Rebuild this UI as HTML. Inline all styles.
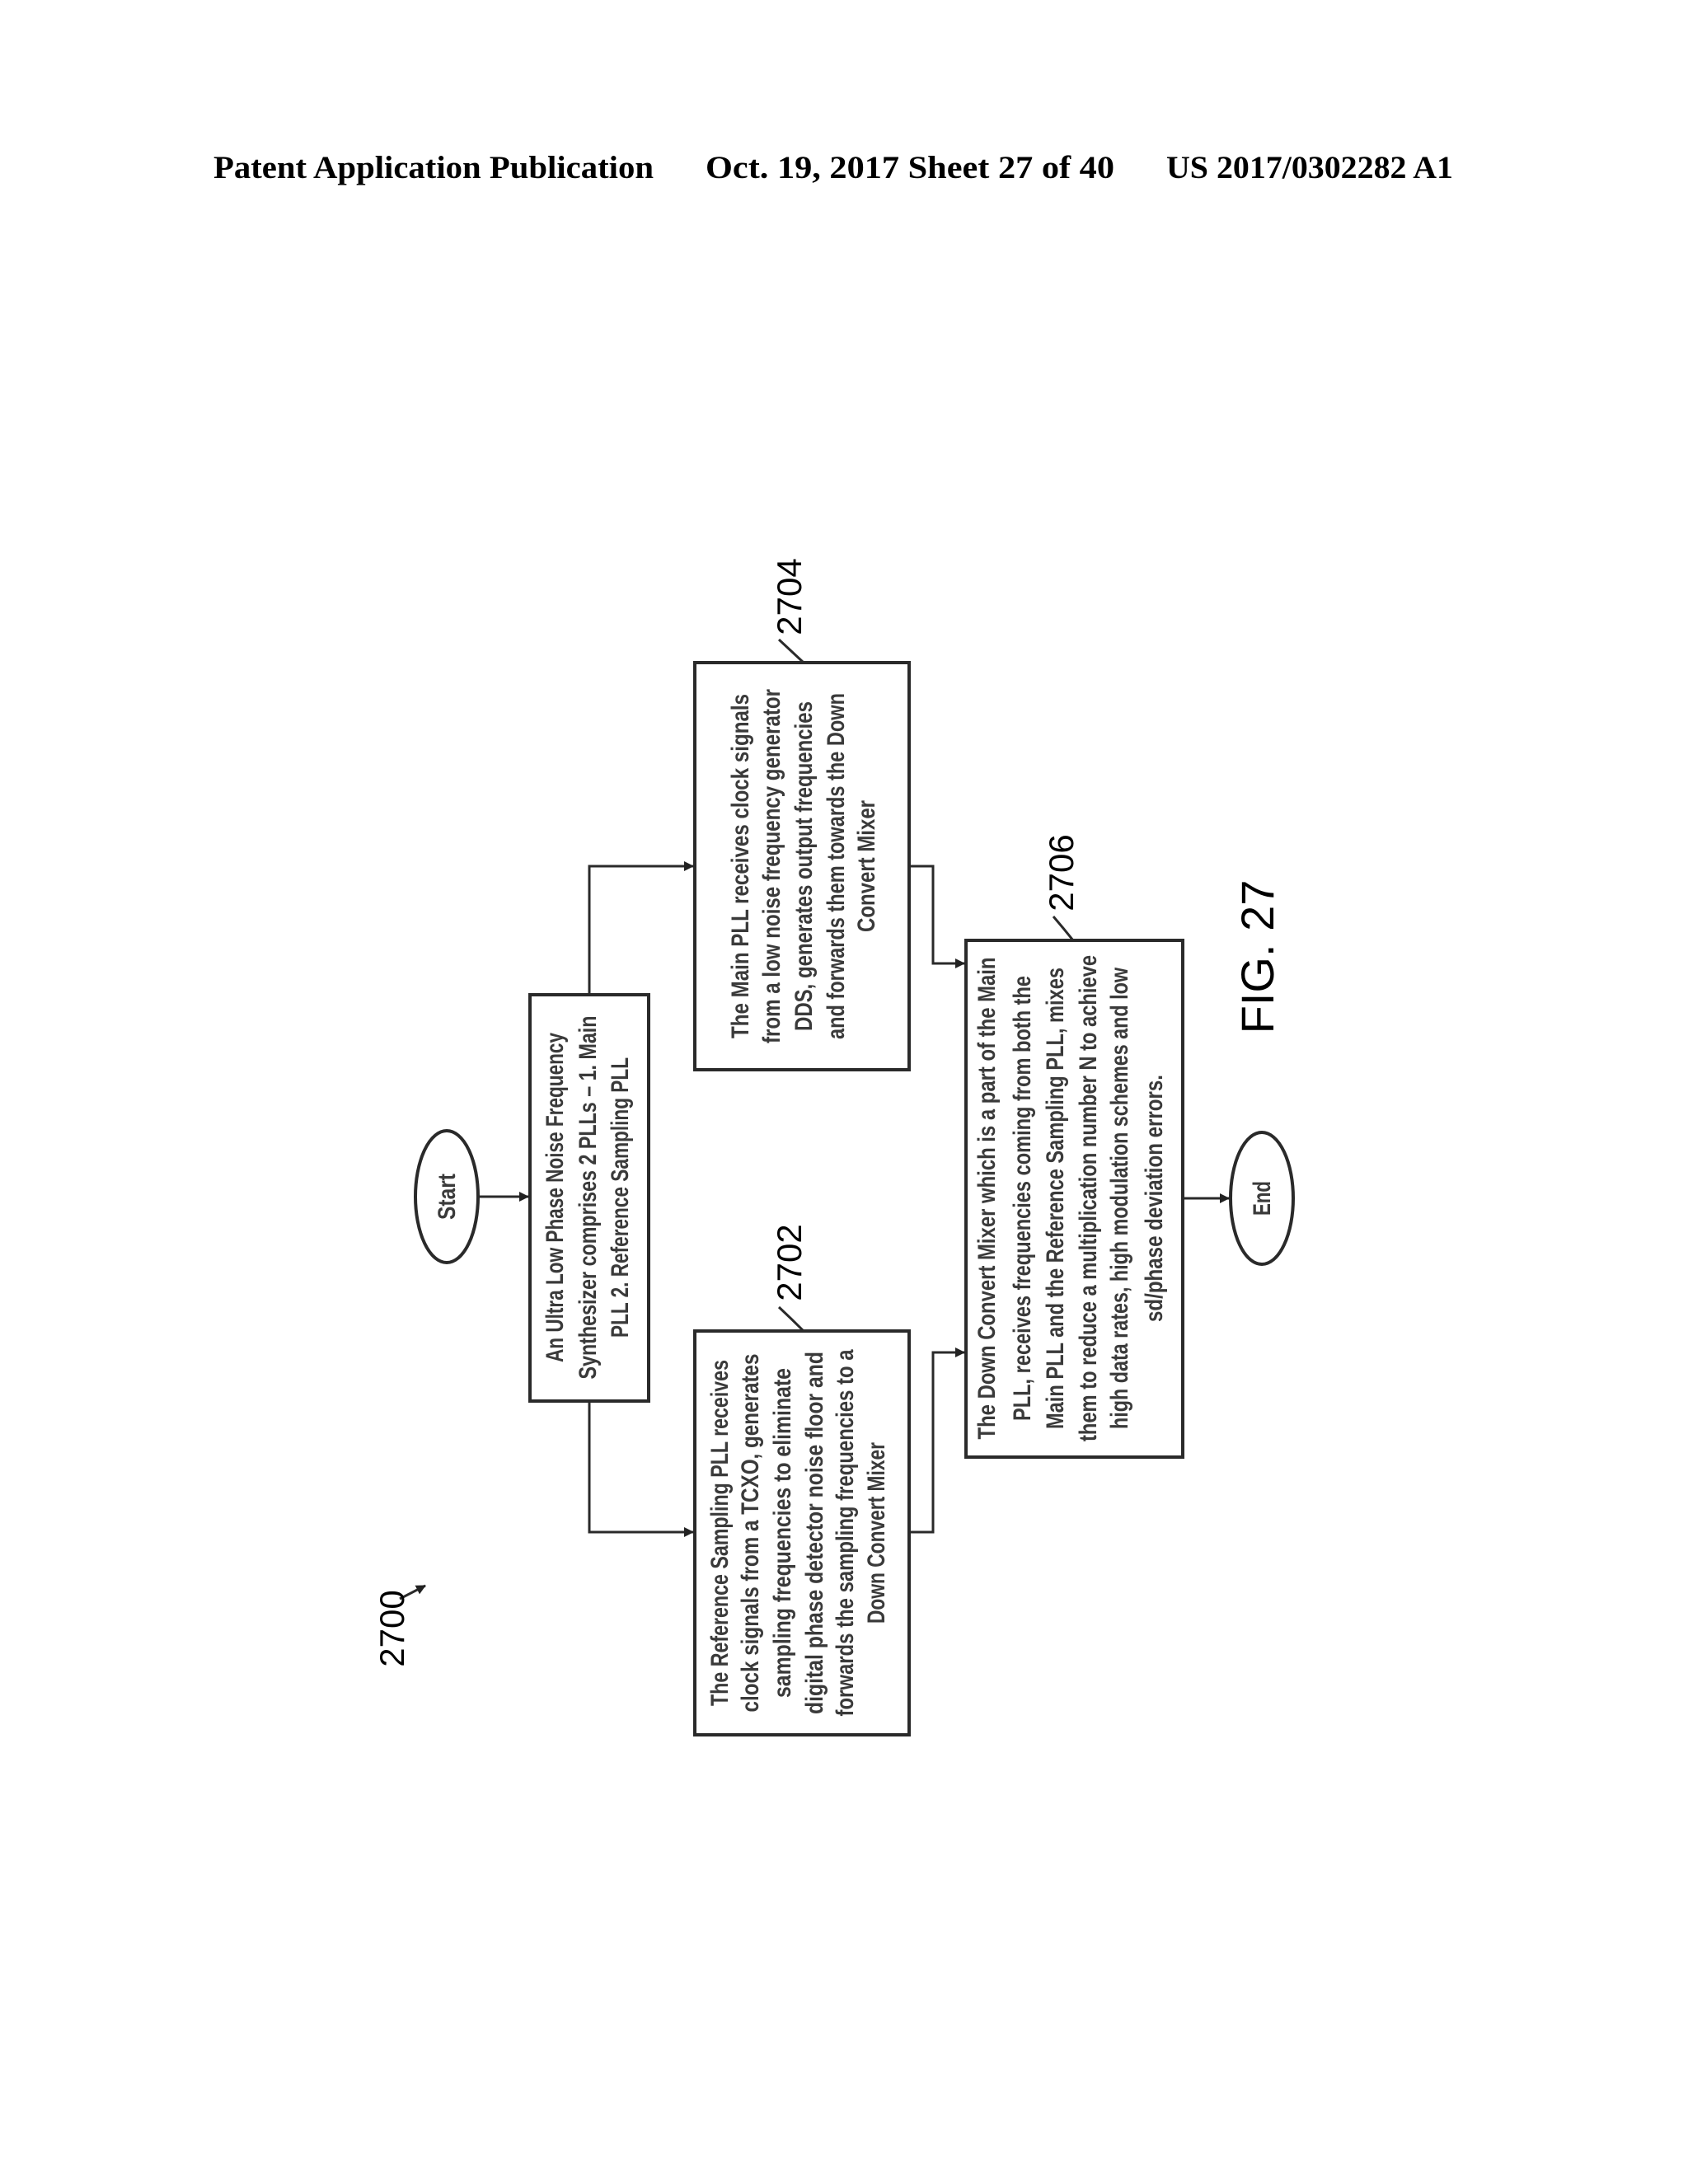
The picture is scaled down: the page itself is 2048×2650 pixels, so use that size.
<!DOCTYPE html>
<html><head><meta charset="utf-8"><style>
html,body{margin:0;padding:0;background:#fff;}
svg{display:block;}
</style></head><body>
<svg width="2048" height="2650" viewBox="0 0 2048 2650" xmlns="http://www.w3.org/2000/svg">
<defs>
<marker id="ah" markerWidth="12" markerHeight="12" refX="11" refY="6" orient="auto" markerUnits="userSpaceOnUse">
<path d="M0,0 L12,6 L0,12 z" fill="#222"/>
</marker>
</defs>
<g font-family="Liberation Serif, serif" font-weight="bold" font-size="39" fill="#000">
<text x="259" y="216" textLength="534" lengthAdjust="spacingAndGlyphs">Patent Application Publication</text>
<text x="856" y="216" textLength="496" lengthAdjust="spacingAndGlyphs">Oct. 19, 2017  Sheet 27 of 40</text>
<text x="1415" y="216" textLength="348" lengthAdjust="spacingAndGlyphs">US 2017/0302282 A1</text>
</g>

<g fill="none" stroke="#2a2a2a" stroke-width="4">
<ellipse cx="542" cy="1452" rx="38" ry="80"/>
<ellipse cx="1531" cy="1454" rx="38" ry="80"/>
<rect x="643" y="1207" width="144" height="493"/>
<rect x="843" y="804" width="260" height="494"/>
<rect x="843" y="1615" width="260" height="490"/>
<rect x="1172" y="1141" width="263" height="627"/>
</g>
<g fill="none" stroke="#2a2a2a" stroke-width="3">
<path d="M580,1452 L641,1452" marker-end="url(#ah)"/>
<path d="M715,1207 L715,1051 L841,1051" marker-end="url(#ah)"/>
<path d="M715,1700 L715,1859 L841,1859" marker-end="url(#ah)"/>
<path d="M1103,1051 L1132,1051 L1132,1169 L1170,1169" marker-end="url(#ah)"/>
<path d="M1103,1859 L1132,1859 L1132,1641 L1170,1641" marker-end="url(#ah)"/>
<path d="M1435,1454 L1491,1454" marker-end="url(#ah)"/>
<path d="M945,776 Q960,790 975,804"/>
<path d="M945,1586 Q960,1600 975,1615"/>
<path d="M1278,1112 Q1290,1126 1302,1141"/>
<path d="M485,1940 L516,1924" marker-end="url(#ah)"/>
</g>

<g font-family="Liberation Sans, sans-serif" fill="#000" font-size="42" text-anchor="middle">
<text transform="translate(972,724) rotate(-90)">2704</text>
<text transform="translate(972,1532) rotate(-90)">2702</text>
<text transform="translate(1302,1059) rotate(-90)">2706</text>
<text transform="translate(490,1976) rotate(-90)">2700</text>
<text transform="translate(1545,1161) rotate(-90)" font-size="56">FIG. 27</text>
</g>

<g font-family="Liberation Sans, sans-serif" fill="#3a3a3a" font-weight="bold" font-size="30" text-anchor="middle">
<text transform="translate(552,1452) rotate(-90)" font-size="30" textLength="56" lengthAdjust="spacingAndGlyphs">Start</text>
<text transform="translate(1541,1454) rotate(-90)" font-size="30" textLength="42" lengthAdjust="spacingAndGlyphs">End</text>

<text transform="translate(683,1453) rotate(-90)" textLength="400" lengthAdjust="spacingAndGlyphs">An Ultra Low Phase Noise Frequency</text>
<text transform="translate(723,1453) rotate(-90)" textLength="441" lengthAdjust="spacingAndGlyphs">Synthesizer comprises 2 PLLs – 1. Main</text>
<text transform="translate(762,1453) rotate(-90)" textLength="340" lengthAdjust="spacingAndGlyphs">PLL 2. Reference Sampling PLL</text>

<text transform="translate(908,1051) rotate(-90)" textLength="418" lengthAdjust="spacingAndGlyphs">The Main PLL receives clock signals</text>
<text transform="translate(946,1051) rotate(-90)" textLength="430" lengthAdjust="spacingAndGlyphs">from a low noise frequency generator</text>
<text transform="translate(985,1051) rotate(-90)" textLength="400" lengthAdjust="spacingAndGlyphs">DDS, generates output frequencies</text>
<text transform="translate(1024,1051) rotate(-90)" textLength="420" lengthAdjust="spacingAndGlyphs">and forwards them towards the Down</text>
<text transform="translate(1061,1051) rotate(-90)" textLength="160" lengthAdjust="spacingAndGlyphs">Convert Mixer</text>

<text transform="translate(883,1860) rotate(-90)" textLength="420" lengthAdjust="spacingAndGlyphs">The Reference Sampling PLL receives</text>
<text transform="translate(920,1860) rotate(-90)" textLength="435" lengthAdjust="spacingAndGlyphs">clock signals from a TCXO, generates</text>
<text transform="translate(959,1860) rotate(-90)" textLength="400" lengthAdjust="spacingAndGlyphs">sampling frequencies to eliminate</text>
<text transform="translate(998,1860) rotate(-90)" textLength="440" lengthAdjust="spacingAndGlyphs">digital phase detector noise floor and</text>
<text transform="translate(1035,1860) rotate(-90)" textLength="445" lengthAdjust="spacingAndGlyphs">forwards the sampling frequencies to a</text>
<text transform="translate(1073,1860) rotate(-90)" textLength="220" lengthAdjust="spacingAndGlyphs">Down Convert Mixer</text>

<text transform="translate(1207,1454) rotate(-90)" textLength="585" lengthAdjust="spacingAndGlyphs">The Down Convert Mixer which is a part of the Main</text>
<text transform="translate(1250,1454) rotate(-90)" textLength="540" lengthAdjust="spacingAndGlyphs">PLL, receives frequencies coming from both the</text>
<text transform="translate(1290,1454) rotate(-90)" textLength="560" lengthAdjust="spacingAndGlyphs">Main PLL and the Reference Sampling PLL, mixes</text>
<text transform="translate(1330,1454) rotate(-90)" textLength="590" lengthAdjust="spacingAndGlyphs">them to reduce a multiplication number N to achieve</text>
<text transform="translate(1368,1454) rotate(-90)" textLength="560" lengthAdjust="spacingAndGlyphs">high data rates, high modulation schemes and low</text>
<text transform="translate(1410,1454) rotate(-90)" textLength="300" lengthAdjust="spacingAndGlyphs">sd/phase deviation errors.</text>
</g>
</svg>
</body></html>
